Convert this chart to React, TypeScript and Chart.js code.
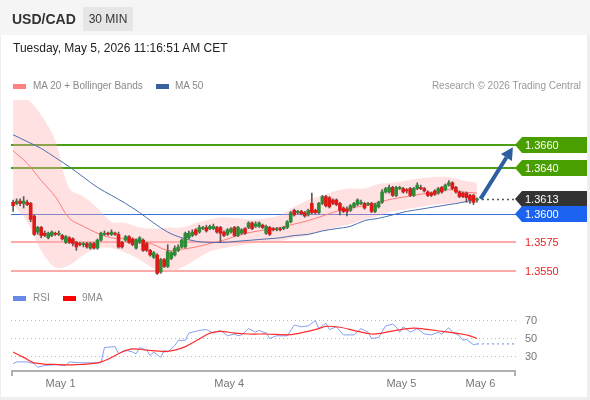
import React, { useEffect, useRef } from "react";
import { Chart, registerables } from "chart.js";

Chart.register(...registerables);

const FONT = "'Liberation Sans', Arial, sans-serif";

// ---- Candles (30 min), index 0 .. 132 ----
const opens = [
  1.3610, 1.3609, 1.3611, 1.3609, 1.3610, 1.3609, 1.3598, 1.3584, 1.3588, 1.3583,
  1.3579, 1.3581, 1.3583, 1.3582, 1.3581, 1.3575, 1.3579, 1.3578, 1.3575, 1.3574,
  1.3573, 1.3574, 1.3570, 1.3574, 1.3570, 1.3577, 1.3582, 1.3583, 1.3582, 1.3583,
  1.3582, 1.3575, 1.3577, 1.3580, 1.3578, 1.3570, 1.3575, 1.3577, 1.3574, 1.3568,
  1.3562, 1.3564, 1.3549, 1.3560, 1.3554, 1.3561, 1.3564, 1.3568, 1.3571, 1.3571,
  1.3579, 1.3581, 1.3586, 1.3584, 1.3587, 1.3588, 1.3587, 1.3587, 1.3588, 1.3588,
  1.3584, 1.3582, 1.3584, 1.3588, 1.3581, 1.3583, 1.3587, 1.3588, 1.3592, 1.3589,
  1.3589, 1.3590, 1.3583, 1.3588, 1.3587, 1.3586, 1.3587, 1.3587, 1.3588, 1.3593,
  1.3603, 1.3601, 1.3602, 1.3601, 1.3599, 1.3609, 1.3603, 1.3601, 1.3609, 1.3615,
  1.3614, 1.3612, 1.3612, 1.3609, 1.3605, 1.3604, 1.3603, 1.3606, 1.3608, 1.3609,
  1.3609, 1.3608, 1.3609, 1.3602, 1.3606, 1.3610, 1.3619, 1.3619, 1.3623, 1.3616,
  1.3622, 1.3622, 1.3621, 1.3622, 1.3616, 1.3622, 1.3623, 1.3622, 1.3619, 1.3618,
  1.3620, 1.3618, 1.3623, 1.3621, 1.3625, 1.3627, 1.3623, 1.3619, 1.3618, 1.3618,
  1.3616, 1.3616, 1.3612,
];
const highs = [
  1.3612, 1.3613, 1.3613, 1.3615, 1.3612, 1.3610, 1.3599, 1.3589, 1.3589, 1.3585,
  1.3584, 1.3585, 1.3584, 1.3585, 1.3582, 1.3581, 1.3580, 1.3579, 1.3576, 1.3575,
  1.3575, 1.3575, 1.3575, 1.3575, 1.3578, 1.3584, 1.3585, 1.3584, 1.3586, 1.3584,
  1.3584, 1.3576, 1.3581, 1.3581, 1.3579, 1.3578, 1.3580, 1.3578, 1.3575, 1.3569,
  1.3567, 1.3565, 1.3561, 1.3561, 1.3573, 1.3567, 1.3572, 1.3573, 1.3578, 1.3584,
  1.3585, 1.3586, 1.3587, 1.3590, 1.3589, 1.3590, 1.3590, 1.3591, 1.3589, 1.3589,
  1.3585, 1.3587, 1.3588, 1.3589, 1.3589, 1.3587, 1.3588, 1.3593, 1.3593, 1.3593,
  1.3593, 1.3591, 1.3590, 1.3589, 1.3588, 1.3588, 1.3588, 1.3589, 1.3594, 1.3602,
  1.3604, 1.3603, 1.3603, 1.3602, 1.3604, 1.3618, 1.3604, 1.3610, 1.3616, 1.3616,
  1.3615, 1.3613, 1.3613, 1.3610, 1.3606, 1.3606, 1.3608, 1.3610, 1.3613, 1.3612,
  1.3610, 1.3610, 1.3610, 1.3609, 1.3611, 1.3621, 1.3623, 1.3625, 1.3624, 1.3624,
  1.3624, 1.3623, 1.3622, 1.3623, 1.3623, 1.3627, 1.3625, 1.3623, 1.3620, 1.3619,
  1.3621, 1.3623, 1.3624, 1.3626, 1.3629, 1.3628, 1.3624, 1.3620, 1.3619, 1.3619,
  1.3617, 1.3617, 1.3614,
];
const lows = [
  1.3602, 1.3608, 1.3607, 1.3605, 1.3607, 1.3593, 1.3581, 1.3582, 1.3579, 1.3580,
  1.3578, 1.3580, 1.3581, 1.3581, 1.3577, 1.3574, 1.3574, 1.3572, 1.3568, 1.3572,
  1.3571, 1.3570, 1.3569, 1.3569, 1.3569, 1.3576, 1.3581, 1.3581, 1.3581, 1.3581,
  1.3570, 1.3570, 1.3576, 1.3574, 1.3572, 1.3569, 1.3574, 1.3567, 1.3567, 1.3563,
  1.3561, 1.3547, 1.3548, 1.3553, 1.3553, 1.3560, 1.3563, 1.3567, 1.3570, 1.3570,
  1.3578, 1.3580, 1.3581, 1.3583, 1.3586, 1.3584, 1.3586, 1.3586, 1.3583, 1.3575,
  1.3580, 1.3581, 1.3583, 1.3580, 1.3580, 1.3582, 1.3582, 1.3587, 1.3586, 1.3588,
  1.3588, 1.3587, 1.3582, 1.3581, 1.3585, 1.3585, 1.3585, 1.3586, 1.3587, 1.3592,
  1.3598, 1.3600, 1.3599, 1.3597, 1.3598, 1.3600, 1.3600, 1.3600, 1.3608, 1.3606,
  1.3605, 1.3608, 1.3607, 1.3599, 1.3601, 1.3598, 1.3602, 1.3605, 1.3607, 1.3608,
  1.3604, 1.3607, 1.3601, 1.3601, 1.3605, 1.3609, 1.3618, 1.3618, 1.3615, 1.3615,
  1.3621, 1.3618, 1.3618, 1.3615, 1.3615, 1.3621, 1.3621, 1.3619, 1.3615, 1.3615,
  1.3616, 1.3617, 1.3618, 1.3620, 1.3624, 1.3621, 1.3618, 1.3614, 1.3614, 1.3610,
  1.3609, 1.3608, 1.3610,
];
const closes = [
  1.3607, 1.3611, 1.3609, 1.3611, 1.3608, 1.3595, 1.3582, 1.3588, 1.3581, 1.3581,
  1.3583, 1.3584, 1.3582, 1.3583, 1.3578, 1.3580, 1.3575, 1.3574, 1.3571, 1.3573,
  1.3574, 1.3571, 1.3574, 1.3570, 1.3577, 1.3583, 1.3583, 1.3582, 1.3584, 1.3582,
  1.3571, 1.3571, 1.3580, 1.3575, 1.3573, 1.3577, 1.3579, 1.3568, 1.3568, 1.3564,
  1.3566, 1.3548, 1.3560, 1.3554, 1.3567, 1.3566, 1.3570, 1.3571, 1.3577, 1.3583,
  1.3583, 1.3584, 1.3582, 1.3588, 1.3588, 1.3585, 1.3589, 1.3589, 1.3584, 1.3583,
  1.3581, 1.3586, 1.3587, 1.3581, 1.3588, 1.3586, 1.3583, 1.3592, 1.3587, 1.3591,
  1.3592, 1.3588, 1.3589, 1.3582, 1.3586, 1.3587, 1.3586, 1.3588, 1.3593, 1.3601,
  1.3599, 1.3602, 1.3600, 1.3598, 1.3603, 1.3601, 1.3601, 1.3609, 1.3615, 1.3607,
  1.3606, 1.3609, 1.3608, 1.3603, 1.3602, 1.3602, 1.3607, 1.3609, 1.3612, 1.3610,
  1.3605, 1.3609, 1.3602, 1.3608, 1.3610, 1.3619, 1.3622, 1.3623, 1.3616, 1.3623,
  1.3623, 1.3619, 1.3620, 1.3616, 1.3622, 1.3625, 1.3622, 1.3620, 1.3616, 1.3616,
  1.3617, 1.3622, 1.3619, 1.3625, 1.3627, 1.3622, 1.3619, 1.3615, 1.3615, 1.3614,
  1.3612, 1.3610, 1.3613,
];

// ---- Indicators, sampled every 4 candles ----
const bandIdx = [0, 4, 8, 12, 16, 20, 24, 28, 32, 36, 40, 44, 48, 52, 56, 60, 64, 68, 72, 76, 80, 84, 88, 92, 96, 100, 104, 108, 112, 116, 120, 124, 128, 132];
const upperBand = [1.3702, 1.3700, 1.3686, 1.3664, 1.3622, 1.3615, 1.3605, 1.3593, 1.3592, 1.3588, 1.3587, 1.3588, 1.3588, 1.3592, 1.3595, 1.3597, 1.3596, 1.3595, 1.3596, 1.3599, 1.3606, 1.3612, 1.3616, 1.3620, 1.3622, 1.3622, 1.3626, 1.3627, 1.3629, 1.3631, 1.3632, 1.3632, 1.3629, 1.3627];
const lowerBand = [1.3608, 1.3593, 1.3568, 1.3553, 1.3555, 1.3564, 1.3570, 1.3570, 1.3566, 1.3560, 1.3552, 1.3549, 1.3553, 1.3560, 1.3567, 1.3570, 1.3572, 1.3574, 1.3575, 1.3576, 1.3579, 1.3581, 1.3585, 1.3588, 1.3591, 1.3595, 1.3598, 1.3602, 1.3604, 1.3606, 1.3608, 1.3609, 1.3610, 1.3609];
const ma20 = [1.3655, 1.3644, 1.3629, 1.3615, 1.3596, 1.3589, 1.3583, 1.3579, 1.3578, 1.3577, 1.3573, 1.3568, 1.3569, 1.3571, 1.3574, 1.3577, 1.3581, 1.3584, 1.3586, 1.3588, 1.3591, 1.3594, 1.3598, 1.3602, 1.3605, 1.3607, 1.3610, 1.3613, 1.3615, 1.3617, 1.3619, 1.3621, 1.3619, 1.3618];
const ma50 = [1.3669, 1.3663, 1.3657, 1.3649, 1.3641, 1.3632, 1.3623, 1.3616, 1.3609, 1.3601, 1.3592, 1.3584, 1.3579, 1.3576, 1.3575, 1.3575, 1.3576, 1.3577, 1.3578, 1.3579, 1.3581, 1.3582, 1.3585, 1.3587, 1.3589, 1.3594, 1.3596, 1.3599, 1.3602, 1.3604, 1.3606, 1.3608, 1.3610, 1.3613];

// ---- Levels ----
const resistanceLevels = [1.3660, 1.3640];
const pivotLevel = 1.3600;
const supportLevels = [1.3575, 1.3550];
const lastPrice = 1.3613;
const arrowFrom = [133, 1.3613];
const arrowTo = [142.2, 1.3658];

// ---- RSI ----
const rsiIdx = [0, 1, 4, 6, 7, 8, 9, 12, 15, 16, 19, 23, 25, 26, 29, 30, 32, 34, 35, 36, 38, 39, 40, 42, 43, 44, 46, 47, 49, 50, 53, 55, 57, 59, 61, 63, 64, 65, 67, 69, 70, 72, 73, 75, 78, 80, 82, 84, 86, 87, 89, 90, 92, 94, 97, 99, 101, 102, 104, 106, 108, 109, 110, 111, 113, 115, 117, 119, 121, 122, 124, 125, 127, 128, 129, 131, 132];
const rsiVal = [22, 24, 24, 22, 18, 19, 20, 21, 20, 24, 23, 23, 23, 40, 41, 33, 37, 35, 33, 40, 37, 31, 35, 29, 37, 35, 42, 48, 48, 56, 59, 60, 56, 59, 53, 55, 53, 54, 61, 57, 59, 56, 50, 53, 53, 65, 63, 64, 70, 61, 67, 60, 63, 54, 54, 61, 57, 50, 51, 64, 66, 63, 57, 63, 57, 61, 55, 54, 57, 55, 62, 57, 53, 48, 49, 43, 44];
const rsiMaIdx = [0, 3, 6, 13, 18, 24, 27, 31, 34, 38, 43, 46, 49, 53, 56, 59, 63, 67, 70, 72, 78, 81, 84, 87, 89, 93, 98, 102, 105, 109, 114, 117, 122, 126, 130, 132];
const rsiMaVal = [35, 29, 23, 21, 21, 23, 27, 35, 38.5, 37, 35.5, 37, 41, 49.5, 56, 58, 56, 55, 55, 55, 54, 55.5, 58, 61, 63.5, 62.5, 58, 55, 56, 59, 61.5, 60.5, 58, 56, 53, 50];
const rsiTicks = [30, 50, 70];

// ---- X axis ----
const dateTickIdx = [13.5, 61.5, 110.5, 133];
const dateTickLabels = ["May 1", "May 4", "May 5", "May 6"];
const X_MIN = -0.6;
const X_MAX = 143.1;
const Y_MIN = 1.35439;
const Y_MAX = 1.36993;

const pts = (xs: number[], ys: number[]) => xs.map((x, i) => ({ x, y: ys[i] }));

const levelsPlugin = {
  id: "levels",
  beforeDatasetsDraw(chart: any) {
    const { ctx, chartArea, scales } = chart;
    const y = scales.y;
    const hline = (v: number, color: string, w: number) => {
      const py = Math.round(y.getPixelForValue(v)) + (w % 2 ? 0.5 : 0);
      ctx.save();
      ctx.strokeStyle = color;
      ctx.lineWidth = w;
      ctx.beginPath();
      ctx.moveTo(chartArea.left, py);
      ctx.lineTo(chartArea.right, py);
      ctx.stroke();
      ctx.restore();
    };
    supportLevels.forEach((v) => hline(v, "#ffaaaa", 2));
    hline(pivotLevel, "#3a6edb", 1);
    resistanceLevels.forEach((v) => hline(v, "#4a9f12", 2));
  },
  afterDatasetsDraw(chart: any) {
    const { ctx, chartArea, scales } = chart;
    const x = scales.x;
    const y = scales.y;
    const py = Math.round(y.getPixelForValue(lastPrice)) + 0.5;
    ctx.save();
    ctx.strokeStyle = "#555";
    ctx.lineWidth = 1.5;
    ctx.setLineDash([2, 3]);
    ctx.beginPath();
    ctx.moveTo(x.getPixelForValue(opens.length - 1) + 5, py);
    ctx.lineTo(chartArea.right, py);
    ctx.stroke();
    ctx.restore();
    const x0 = x.getPixelForValue(arrowFrom[0]);
    const y0 = y.getPixelForValue(arrowFrom[1]);
    const x1 = x.getPixelForValue(arrowTo[0]);
    const y1 = y.getPixelForValue(arrowTo[1]);
    const ang = Math.atan2(y1 - y0, x1 - x0);
    const head = 12;
    const hw = 6.5;
    const bx = x1 - head * Math.cos(ang);
    const by = y1 - head * Math.sin(ang);
    ctx.save();
    ctx.strokeStyle = "#2d5e9f";
    ctx.fillStyle = "#2d5e9f";
    ctx.lineWidth = 4;
    ctx.beginPath();
    ctx.moveTo(x0, y0);
    ctx.lineTo(bx, by);
    ctx.stroke();
    ctx.beginPath();
    ctx.moveTo(x1, y1);
    ctx.lineTo(bx + hw * Math.sin(ang), by - hw * Math.cos(ang));
    ctx.lineTo(bx - hw * Math.sin(ang), by + hw * Math.cos(ang));
    ctx.closePath();
    ctx.fill();
    ctx.restore();
  },
  afterDraw(chart: any) {
    const { ctx, chartArea, scales } = chart;
    const y = scales.y;
    const x0 = chartArea.right - 1;
    const tag = (v: number, bg: string) => {
      const py = Math.round(y.getPixelForValue(v));
      ctx.save();
      ctx.fillStyle = bg;
      ctx.beginPath();
      ctx.moveTo(x0, py);
      ctx.lineTo(x0 + 7, py - 8);
      ctx.lineTo(587, py - 8);
      ctx.lineTo(587, py + 8);
      ctx.lineTo(x0 + 7, py + 8);
      ctx.closePath();
      ctx.fill();
      ctx.fillStyle = "#ffffff";
      ctx.font = `11px ${FONT}`;
      ctx.textBaseline = "middle";
      ctx.fillText(v.toFixed(4), x0 + 10, py + 0.5);
      ctx.restore();
    };
    resistanceLevels.forEach((v) => tag(v, "#4a9f00"));
    tag(lastPrice, "#333333");
    tag(pivotLevel, "#1b63f0");
    supportLevels.forEach((v) => {
      const py = Math.round(y.getPixelForValue(v));
      ctx.save();
      ctx.fillStyle = "#ee2222";
      ctx.font = `11px ${FONT}`;
      ctx.textBaseline = "middle";
      ctx.fillText(v.toFixed(4), x0 + 10, py + 0.5);
      ctx.restore();
    });
  },
};

const rsiAxisPlugin = {
  id: "rsiAxis",
  afterDraw(chart: any) {
    const { ctx, chartArea } = chart;
    const yb = chartArea.bottom + 1;
    ctx.save();
    ctx.strokeStyle = "#b0b0b0";
    ctx.lineWidth = 2;
    ctx.beginPath();
    ctx.moveTo(chartArea.left + 1, yb + 5);
    ctx.lineTo(chartArea.left + 1, yb);
    ctx.lineTo(chartArea.right - 1, yb);
    ctx.lineTo(chartArea.right - 1, yb + 5);
    ctx.stroke();
    ctx.restore();
  },
};

export default function App() {
  const mainRef = useRef<HTMLCanvasElement | null>(null);
  const rsiRef = useRef<HTMLCanvasElement | null>(null);

  useEffect(() => {
    document.body.style.margin = "0";
    Chart.defaults.font.family = FONT;
    const idx = opens.map((_, i) => i);
    const bodyColors = idx.map((i) =>
      closes[i] > opens[i] ? "#2e8b36" : closes[i] < opens[i] ? "#e01818" : "#555555"
    );
    const main = new Chart(mainRef.current as HTMLCanvasElement, {
      type: "bar",
      data: {
        datasets: [
          {
            type: "line",
            label: "upper",
            data: pts(bandIdx, upperBand),
            borderWidth: 0,
            borderColor: "rgba(0,0,0,0)",
            pointRadius: 0,
            fill: false,
            tension: 0.35,
            order: 5,
          },
          {
            type: "line",
            label: "lower",
            data: pts(bandIdx, lowerBand),
            borderWidth: 0,
            borderColor: "rgba(0,0,0,0)",
            backgroundColor: "rgba(255,175,175,0.38)",
            pointRadius: 0,
            fill: "-1",
            tension: 0.35,
            order: 4,
          },
          {
            type: "line",
            label: "MA 20",
            data: pts(bandIdx, ma20),
            borderColor: "#ff7a7a",
            borderWidth: 1,
            pointRadius: 0,
            fill: false,
            tension: 0.35,
            order: 3,
          },
          {
            type: "line",
            label: "MA 50",
            data: pts(bandIdx, ma50),
            borderColor: "#4a6eb0",
            borderWidth: 1,
            pointRadius: 0,
            fill: false,
            tension: 0.35,
            order: 2,
          },
          {
            type: "bar",
            label: "wick",
            data: idx.map((i) => ({ x: i, y: [lows[i], highs[i]] })),
            backgroundColor: "#5a5a5a",
            barThickness: 1,
            grouped: false,
            order: 1,
          },
          {
            type: "bar",
            label: "body",
            data: idx.map((i) => ({ x: i, y: [opens[i], closes[i]] })),
            backgroundColor: bodyColors,
            barThickness: 3,
            minBarLength: 1,
            grouped: false,
            order: 0,
          },
        ] as any,
      },
      options: {
        animation: false,
        responsive: false,
        maintainAspectRatio: false,
        events: [],
        layout: { padding: { left: 11, right: 74, top: 100, bottom: 12 } },
        plugins: { legend: { display: false }, tooltip: { enabled: false } },
        scales: {
          x: { type: "linear", min: X_MIN, max: X_MAX, display: false, offset: false },
          y: { type: "linear", min: Y_MIN, max: Y_MAX, display: false },
        },
      } as any,
      plugins: [levelsPlugin],
    });

    const lastIdx = rsiIdx[rsiIdx.length - 1];
    const lastRsi = rsiVal[rsiVal.length - 1];
    const rsi = new Chart(rsiRef.current as HTMLCanvasElement, {
      type: "line",
      data: {
        datasets: [
          {
            label: "9MA",
            data: pts(rsiMaIdx, rsiMaVal),
            borderColor: "#ff2d2d",
            borderWidth: 1.2,
            pointRadius: 0,
            tension: 0.35,
            order: 0,
          },
          {
            label: "RSI",
            data: pts(rsiIdx, rsiVal),
            borderColor: "#84a0f0",
            borderWidth: 1,
            pointRadius: 0,
            tension: 0,
            order: 1,
          },
          {
            label: "RSI ext",
            data: [
              { x: lastIdx, y: lastRsi },
              { x: X_MAX, y: lastRsi },
            ],
            borderColor: "#84a0f0",
            borderWidth: 1.3,
            borderDash: [2, 3],
            pointRadius: 0,
            order: 2,
          },
        ],
      },
      options: {
        animation: false,
        responsive: false,
        maintainAspectRatio: false,
        events: [],
        layout: { padding: { left: 11, right: 0, top: 21.5, bottom: 0 } },
        plugins: { legend: { display: false }, tooltip: { enabled: false } },
        scales: {
          x: {
            type: "linear",
            min: X_MIN,
            max: X_MAX,
            grid: { display: false, drawTicks: false },
            border: { display: false },
            ticks: {
              autoSkip: false,
              maxRotation: 0,
              padding: 7,
              color: "#777",
              font: { size: 11, family: FONT },
              callback: (v: any) => {
                const k = dateTickIdx.indexOf(Number(v));
                return k >= 0 ? dateTickLabels[k] : "";
              },
            },
            afterBuildTicks: (s: any) => {
              s.ticks = dateTickIdx.map((v) => ({ value: v }));
            },
            afterFit: (s: any) => {
              s.height = 30;
            },
          },
          y: {
            type: "linear",
            position: "right",
            min: 15,
            max: 80,
            grid: { color: "#b8b8b8", drawTicks: false, lineWidth: 1 },
            border: { display: false, dash: [1, 3] },
            ticks: { padding: 9, color: "#777", font: { size: 11, family: FONT } },
            afterBuildTicks: (s: any) => {
              s.ticks = rsiTicks.map((v) => ({ value: v }));
            },
            afterFit: (s: any) => {
              s.width = 74;
            },
          },
        },
      } as any,
      plugins: [rsiAxisPlugin],
    });

    return () => {
      main.destroy();
      rsi.destroy();
    };
  }, []);

  const txt = (extra: React.CSSProperties): React.CSSProperties => ({
    position: "absolute",
    fontFamily: FONT,
    whiteSpace: "nowrap",
    ...extra,
  });

  return (
    <div style={{ position: "fixed", left: 0, top: 0, width: 590, height: 400, background: "#eeeeee", overflow: "hidden" }}>
      <div style={{ position: "absolute", left: 1, top: 0, width: 586, height: 397, background: "#ffffff" }} />
      <div style={{ position: "absolute", left: 0, top: 0, width: 590, height: 35, background: "#f5f5f5" }} />
      <canvas ref={mainRef} width={590} height={290} style={{ position: "absolute", left: 0, top: 0, display: "block" }} />
      <canvas ref={rsiRef} width={590} height={110} style={{ position: "absolute", left: 0, top: 290, display: "block" }} />

      <div style={txt({ left: 12, top: 9, lineHeight: "20px", fontSize: 14, fontWeight: "bold", color: "#333" })}>USD/CAD</div>
      <div style={txt({ left: 83, top: 7, width: 50, height: 24, lineHeight: "24px", fontSize: 12, color: "#333", background: "#e6e6e6", textAlign: "center" })}>30 MIN</div>
      <div style={txt({ left: 13, top: 40, lineHeight: "16px", fontSize: 12, color: "#222" })}>Tuesday, May 5, 2026 11:16:51 AM CET</div>

      <div style={{ position: "absolute", left: 13, top: 84, width: 13, height: 5, background: "#ff8080" }} />
      <div style={txt({ left: 33, top: 79, lineHeight: "14px", fontSize: 10, color: "#888" })}>MA 20 + Bollinger Bands</div>
      <div style={{ position: "absolute", left: 156, top: 84, width: 13, height: 5, background: "#3a5fa0" }} />
      <div style={txt({ left: 175, top: 79, lineHeight: "14px", fontSize: 10, color: "#888" })}>MA 50</div>
      <div style={txt({ left: 0, width: 581, top: 79, lineHeight: "14px", fontSize: 10, color: "#999", textAlign: "right" })}>Research © 2026 Trading Central</div>

      <div style={{ position: "absolute", left: 13, top: 296, width: 13, height: 5, background: "#6688e8" }} />
      <div style={txt({ left: 33, top: 291, lineHeight: "14px", fontSize: 10, color: "#888" })}>RSI</div>
      <div style={{ position: "absolute", left: 63, top: 296, width: 13, height: 5, background: "#ff0000" }} />
      <div style={txt({ left: 82, top: 291, lineHeight: "14px", fontSize: 10, color: "#888" })}>9MA</div>
    </div>
  );
}
